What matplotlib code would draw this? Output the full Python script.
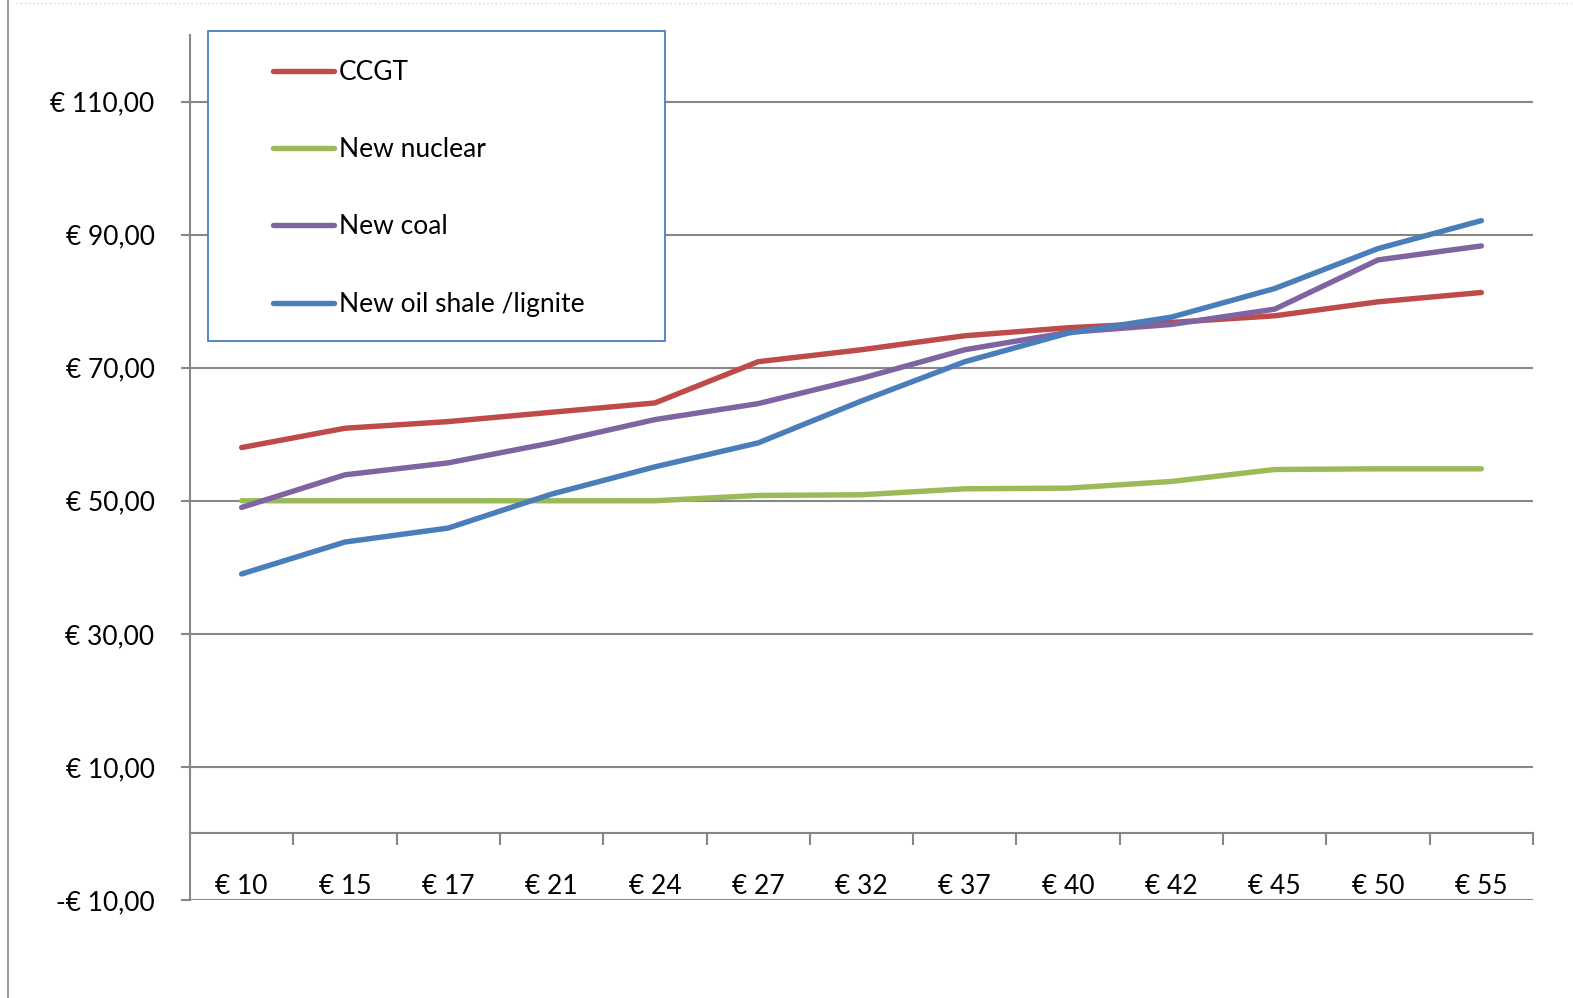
import matplotlib
matplotlib.use('Agg')
import matplotlib.pyplot as plt
from matplotlib.patches import Rectangle
from matplotlib.lines import Line2D
import numpy as np

# CO2 price categories (EUR/t) and cost of electricity per technology
co2_prices = ['€ 10', '€ 15', '€ 17', '€ 21', '€ 24', '€ 27', '€ 32',
              '€ 37', '€ 40', '€ 42', '€ 45', '€ 50', '€ 55']
ccgt = [58.0, 60.9, 61.9, 63.3, 64.7, 70.9, 72.7, 74.8, 76.0, 76.8, 77.8, 79.9, 81.3]
new_nuclear = [50.0, 50.0, 50.0, 50.0, 50.0, 50.8, 50.9, 51.8, 51.9, 52.9, 54.7, 54.8, 54.8]
new_coal = [49.0, 53.9, 55.7, 58.7, 62.2, 64.6, 68.4, 72.7, 75.3, 76.5, 78.8, 86.2, 88.3]
new_oil_shale = [39.0, 43.8, 45.9, 51.0, 55.1, 58.7, 65.0, 70.9, 75.2, 77.6, 81.9, 87.9, 92.1]

series = [
    ('CCGT', ccgt, '#be4b48'),
    ('New nuclear', new_nuclear, '#9bbb59'),
    ('New coal', new_coal, '#8064a2'),
    ('New oil shale /lignite', new_oil_shale, '#4a7ebb'),
]

y_ticks = [-10, 10, 30, 50, 70, 90, 110]
y_labels = ['-€ 10,00', '€ 10,00', '€ 30,00', '€ 50,00', '€ 70,00', '€ 90,00', '€ 110,00']

plt.rcParams['font.family'] = ['Lato', 'DejaVu Sans']
grey = '#878787'

fig = plt.figure(figsize=(15.73, 9.98), dpi=100)
ax = fig.add_axes([190 / 1573, 1 - 900 / 998, (1533 - 190) / 1573, (900 - 35) / 998])

x = np.arange(len(co2_prices))
for name, vals, color in series:
    ax.plot(x, vals, color=color, lw=3.9, label=name, solid_capstyle='round',
            solid_joinstyle='round', zorder=3)

ax.set_xlim(-0.5, len(co2_prices) - 0.5)
ax.set_ylim(-10, 120)

# y axis with gridlines
ax.set_yticks(y_ticks)
ax.set_yticklabels(y_labels, fontsize=19)
ax.yaxis.grid(True, color=grey, lw=1.5)
ax.set_axisbelow(True)
ax.tick_params(axis='y', length=6.5, width=1.5, color=grey, pad=19)

# category axis sits at zero, tick marks between categories
ax.spines['bottom'].set_position(('data', 0))
ax.set_xticks(x)
ax.set_xticklabels(co2_prices, fontsize=19)
ax.set_xticks(x + 0.5, minor=True)
ax.tick_params(axis='x', which='major', length=0, pad=29)
ax.tick_params(axis='x', which='minor', length=8.5, width=1.5, color=grey, direction='out')

for side in ['top', 'right']:
    ax.spines[side].set_visible(False)
for side in ['left', 'bottom']:
    ax.spines[side].set_color(grey)
    ax.spines[side].set_linewidth(1.5)

# legend box with blue border
box = Rectangle((208 / 1573, 1 - 341 / 998), (665 - 208) / 1573, (341 - 31) / 998,
                transform=fig.transFigure, facecolor='white', edgecolor='#4a7ebb',
                lw=1.3, zorder=4, clip_on=False)
ax.add_patch(box)
leg = ax.legend(loc='upper left', bbox_to_anchor=(273 / 1573, 1 - 60 / 998),
                bbox_transform=fig.transFigure, frameon=False, fontsize=19,
                borderpad=0, borderaxespad=0, handlelength=2.3, handletextpad=0.2,
                labelspacing=1.98)
leg.set_zorder(5)

# chart area border
fig.add_artist(Line2D([8 / 1573, 8 / 1573], [0, 1], color='#9a9a9a', lw=1.5))
fig.add_artist(Line2D([0.01, 1], [1 - 3 / 998, 1 - 3 / 998], color='#d8d8d8', lw=1,
                      linestyle=(0, (1, 2))))

fig.savefig('out.png', dpi=100)
